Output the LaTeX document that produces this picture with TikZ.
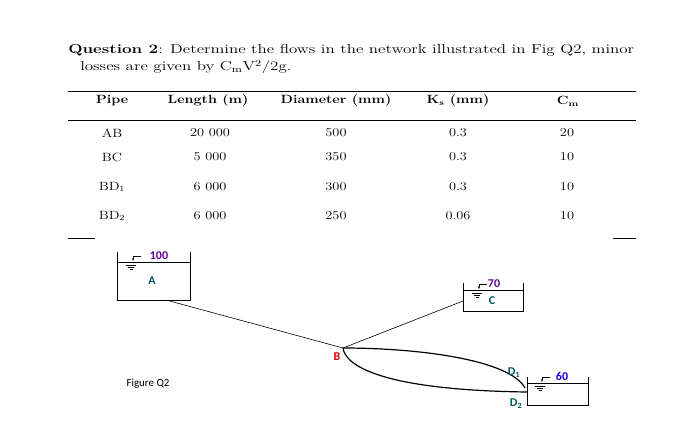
\documentclass[tikz,border=0pt]{standalone}
\usepackage{fontspec}
\usetikzlibrary{arrows.meta}
\newfontfamily\carl{Carlito}
\begin{document}
\begin{tikzpicture}[x=1bp,y=-1bp,
  txt/.style={inner sep=0pt,xscale=1.2,font=\fontsize{12}{14}\selectfont},
  hd/.style={txt,font=\fontsize{12}{14}\selectfont\bfseries},
  ttl/.style={anchor=west,inner sep=0pt,xscale=1.31,font=\fontsize{13}{15}\selectfont},
  lab/.style={inner sep=0pt,font=\carl\bfseries\fontsize{12}{14}\selectfont},
  tank/.style={line width=1pt},
  pipe/.style={line width=0.6pt},
  pipeb/.style={line width=1.2pt}]
\useasboundingbox (0,0) rectangle (698,427);
\node[ttl] (t1) at (68,50) {\textbf{Question 2}: Determine the flows in the network illustrated in Fig Q2, minor};
\node[ttl] (t2) at (80,67) {losses are given by C\textsubscript{m}V\textsuperscript{2}/2g.};
\draw[line width=0.7pt] (68,91) -- (636,91);
\draw[line width=0.7pt] (68,120) -- (636,120);
\draw[line width=0.7pt] (68,238) -- (95,238) (613,238) -- (636,238);
\foreach \x/\t in {112/Pipe,208/Length (m),336/Diameter (mm),458/K\textsubscript{s} (mm),568/C\textsubscript{m}}
  \node[hd] at (\x,101) {\t};
\foreach \y/\a/\b/\c/\d/\e in {133/AB/20 000/500/0.3/20,157/BC/5 000/350/0.3/10,187/BD\textsubscript{1}/6 000/300/0.3/10,216/BD\textsubscript{2}/6 000/250/0.06/10}{
  \node[txt] at (112,\y) {\a};
  \node[txt] at (210,\y) {\b};
  \node[txt] at (336,\y) {\c};
  \node[txt] at (458,\y) {\d};
  \node[txt] at (567,\y) {\e};}
% tanks
\draw[tank] (117,252) -- (117,300) -- (190,300) -- (190,252);
\draw[pipe] (117,262) -- (190,262);
\draw[tank] (463,283) -- (463,311) -- (523,311) -- (523,283);
\draw[pipe] (463,290) -- (523,290);
\draw[tank] (527,377) -- (527,405) -- (588,405) -- (588,377);
\draw[pipe] (527,383) -- (588,383);
% water symbols
\foreach \px/\py in {131/262,477/290,540/383}{
  \draw[pipe] (\px-5,\py+3)--(\px+5,\py+3) (\px-3,\py+5)--(\px+3,\py+5) (\px-1.5,\py+7)--(\px+1.5,\py+7);
  \draw[pipe,-{Stealth[length=3pt]}] (\px+10,\py-6) -- (\px+2,\py-6) -- (\px+2,\py-1);
}
\node[lab,text=violet!80!blue] (l100) at (159,256) {100};
\node[lab,text=violet!80!blue] (l70) at (494,284) {70};
\node[lab,text=blue!80!violet] (l60) at (562,376) {60};
\node[lab,text=teal!70!black] (A) at (152,281) {A};
\node[lab,text=teal!70!black] (C) at (492,301) {C};
\coordinate (Aout) at (166,300);
\coordinate (Cin) at (463,301);
\coordinate (B) at (343,348);
\coordinate (D) at (525,388);
\draw[pipe] (Aout) -- (B) -- (Cin);
\draw[pipeb] (B) .. controls (420,348) and (510,360) .. (D);
\draw[pipeb] (B) .. controls (345,365) and (380,390) .. (527,392);
\node[lab,text=red!85!black] (Bl) at (337,357) {B};
\node[lab,text=teal!70!black] (D1) at (514,373) {D\textsubscript{1}};
\node[lab,text=teal!70!black] (D2) at (516,404) {D\textsubscript{2}};
\node[inner sep=0pt,font=\carl\fontsize{11}{13}\selectfont] (fig) at (148,384) {Figure Q2};
\end{tikzpicture}
\end{document}
